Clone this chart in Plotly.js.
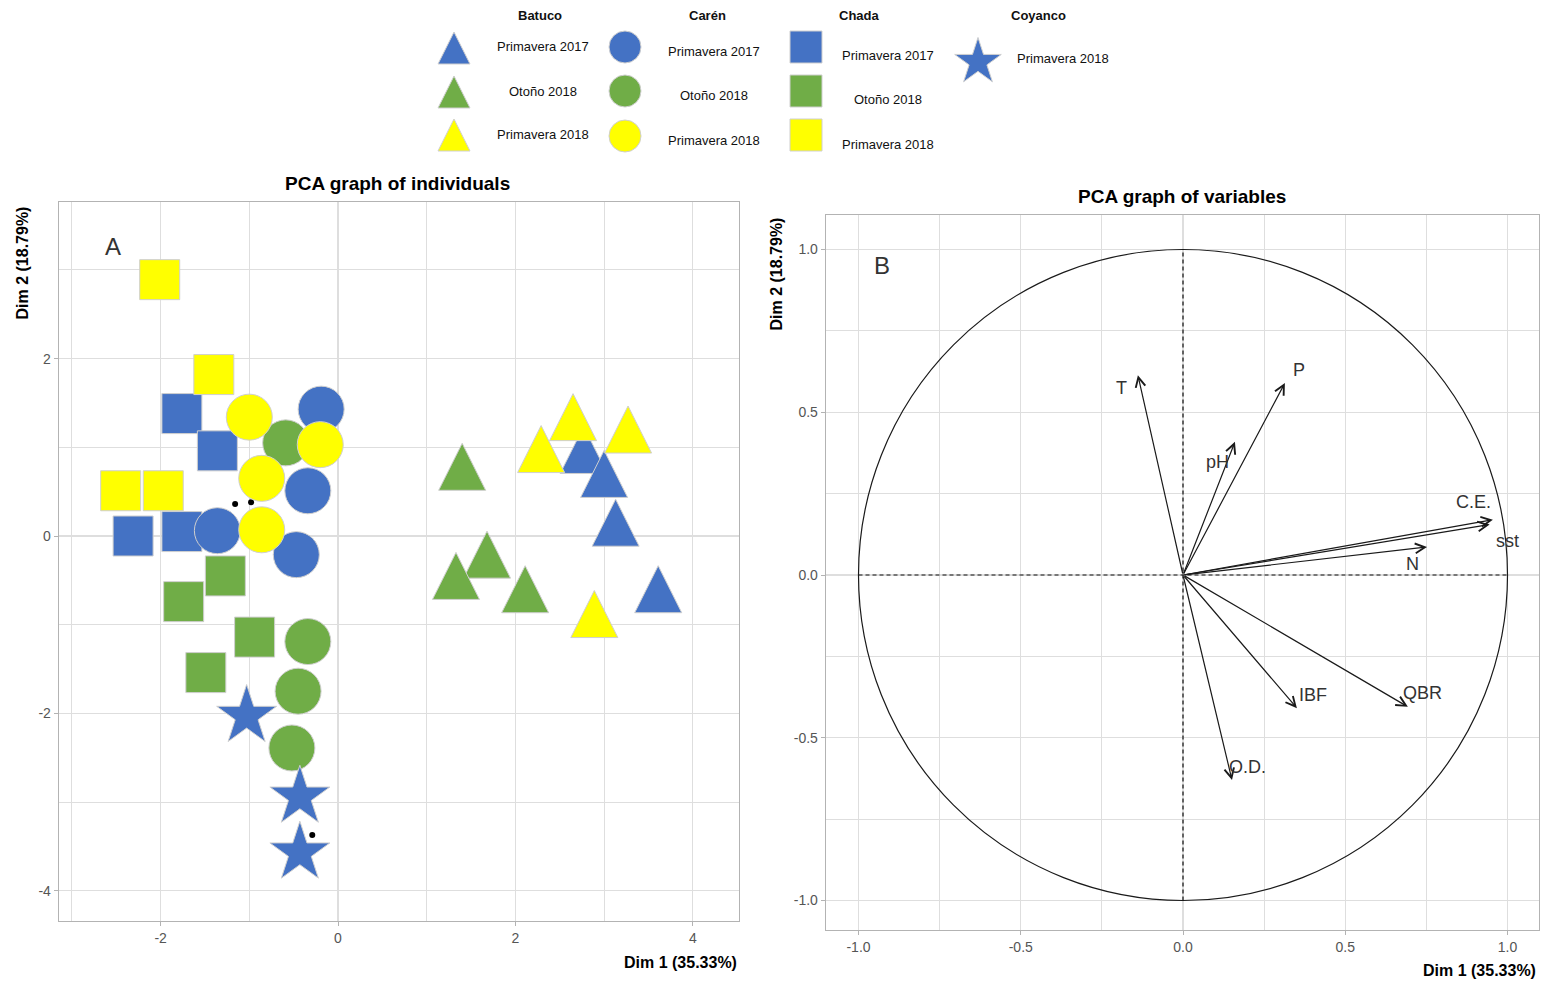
<!DOCTYPE html>
<html><head><meta charset="utf-8">
<script src="https://cdn.plot.ly/plotly-3.0.1.min.js"></script>
<style>html,body{margin:0;padding:0;background:#fff}#chart{width:1557px;height:984px}</style>
</head><body><div id="chart"></div>
<script>
const W = 1557, H = 984;

// ---------- categories ----------
const sites = ['Batuco', 'Carén', 'Chada', 'Coyanco'];
const seasons = ['Primavera 2017', 'Otoño 2018', 'Primavera 2018'];

// ---------- individuals (Dim 1, Dim 2) ----------
const chadaP17Dim1 = [-1.76, -1.36, -2.31, -1.76];
const chadaP17Dim2 = [1.38, 0.96, 0.00, 0.05];
const chadaO18Dim1 = [-1.27, -1.74, -0.94, -1.49];
const chadaO18Dim2 = [-0.45, -0.74, -1.14, -1.54];
const chadaP18Dim1 = [-2.01, -1.40, -2.45, -1.97];
const chadaP18Dim2 = [2.89, 1.82, 0.51, 0.51];
const carenP17Dim1 = [-0.19, -0.34, -1.36, -0.47];
const carenP17Dim2 = [1.43, 0.51, 0.06, -0.21];
const carenO18Dim1 = [-0.59, -0.34, -0.45, -0.52];
const carenO18Dim2 = [1.05, -1.19, -1.75, -2.39];
const carenP18Dim1 = [-1.00, -0.20, -0.86, -0.86];
const carenP18Dim2 = [1.34, 1.03, 0.65, 0.07];
const batucoP17Dim1 = [2.77, 3.00, 3.13, 3.61];
const batucoP17Dim2 = [0.97, 0.70, 0.15, -0.60];
const batucoO18Dim1 = [1.40, 1.68, 1.33, 2.11];
const batucoO18Dim2 = [0.78, -0.21, -0.45, -0.60];
const batucoP18Dim1 = [2.65, 3.27, 2.29, 2.89];
const batucoP18Dim2 = [1.34, 1.20, 0.98, -0.88];
const coyancoP18Dim1 = [-1.03, -0.43, -0.43];
const coyancoP18Dim2 = [-2.03, -2.94, -3.57];
// visible original PCA points
const pointDim1 = [-1.16, -0.98, -0.29];
const pointDim2 = [0.36, 0.38, -3.37];

// ---------- variables ----------
const varNames = ['T', 'P', 'pH', 'C.E.', 'sst', 'N', 'IBF', 'QBR', 'O.D.'];
const varDim1 = [-0.139, 0.314, 0.160, 0.955, 0.945, 0.752, 0.351, 0.693, 0.151];
const varDim2 = [0.614, 0.590, 0.409, 0.170, 0.155, 0.086, -0.409, -0.405, -0.630];

// ---------- tick labels ----------
const indXTicks = [-2, 0, 2, 4];
const indXTickText = ['-2', '0', '2', '4'];
const indYTicks = [-4, -2, 0, 2];
const indYTickText = ['-4', '-2', '0', '2'];
const varTicks = [-1, -0.5, 0, 0.5, 1];
const varTickText = ['-1.0', '-0.5', '0.0', '0.5', '1.0'];

// ---------- styles ----------
const seasonColors = ['#4472C4', '#70AD47', '#FFFF00'];
const coyancoColor = '#4472C4';
const siteMarkers = [
  {symbol: 'arrow-down', size: 47, tri: true, legendSize: 32},
  {symbol: 'circle', size: 46, legendSize: 32},
  {symbol: 'square', size: 40, legendSize: 32},
  {symbol: 'star', size: 45, legendSize: 35}
];
const FONT = 'Liberation Sans, Arial, sans-serif';

const groups = [
  {site: 2, season: 0, x: chadaP17Dim1, y: chadaP17Dim2},
  {site: 2, season: 1, x: chadaO18Dim1, y: chadaO18Dim2},
  {site: 2, season: 2, x: chadaP18Dim1, y: chadaP18Dim2},
  {site: 1, season: 0, x: carenP17Dim1, y: carenP17Dim2},
  {site: 1, season: 1, x: carenO18Dim1, y: carenO18Dim2},
  {site: 1, season: 2, x: carenP18Dim1, y: carenP18Dim2},
  {site: 0, season: 0, x: batucoP17Dim1, y: batucoP17Dim2},
  {site: 0, season: 1, x: batucoO18Dim1, y: batucoO18Dim2},
  {site: 0, season: 2, x: batucoP18Dim1, y: batucoP18Dim2},
  {site: 3, season: 2, x: coyancoP18Dim1, y: coyancoP18Dim2}
];
function colorOf(site, season) { return site === 3 ? coyancoColor : seasonColors[season]; }
function markerOf(site, color, size) {
  const s = siteMarkers[site];
  const m = {symbol: s.symbol, size: size, color: color, line: {color: '#cfcfcf', width: 1}, opacity: 1};
  if (s.tri) { m.angle = 180; m.standoff = size / 2; }
  return m;
}

// ---------- panel geometry (px) ----------
const LP = {l: 59, r: 739, t: 202, b: 921, x0px: 338, y0px: 536, unit: 88.7};
const RP = {l: 826, r: 1539, t: 215, b: 930, x0px: 1183, y0px: 575, ux: 324.5, uy: 325.5};
const px = v => v / W, py = v => 1 - v / H;

const traces = [];
traces.push({type: 'scatter', mode: 'markers', x: pointDim1, y: pointDim2, xaxis: 'x', yaxis: 'y',
  marker: {color: '#000', size: 6}, hoverinfo: 'skip', showlegend: false});
groups.forEach(g => {
  traces.push({type: 'scatter', mode: 'markers', x: g.x, y: g.y, xaxis: 'x', yaxis: 'y',
    name: sites[g.site] + ' ' + seasons[g.season],
    marker: markerOf(g.site, colorOf(g.site, g.season), siteMarkers[g.site].size),
    hoverinfo: 'skip', showlegend: false});
});

// ---------- custom legend (overlay pixel axes) ----------
const legendMarkerX = [454, 625, 806, 978];
const legendMarkerY = [[48, 92, 135], [47, 91, 136], [47, 91, 135], [62]];
const legendLabelX = [543, 714, 888, 1063];
const legendLabelY = [[47, 91, 134], [51, 96, 140], [55, 100, 145], [58]];
const legendHeaderX = [540, 707, 860, 1038];
const legendSeasons = [[0, 1, 2], [0, 1, 2], [0, 1, 2], [2]];

const annotations = [];
sites.forEach((s, i) => {
  annotations.push({xref: 'paper', yref: 'paper', x: px(legendHeaderX[i]), y: py(15), text: '<b>' + s + '</b>',
    showarrow: false, font: {family: FONT, size: 13, color: '#111'}, xanchor: 'center', yanchor: 'middle'});
  legendSeasons[i].forEach((se, k) => {
    traces.push({type: 'scatter', mode: 'markers', x: [legendMarkerX[i]], y: [legendMarkerY[i][k]],
      xaxis: 'x3', yaxis: 'y3', hoverinfo: 'skip', showlegend: false,
      marker: markerOf(i, colorOf(i, se), siteMarkers[i].legendSize)});
    annotations.push({xref: 'paper', yref: 'paper', x: px(legendLabelX[i]), y: py(legendLabelY[i][k]),
      text: seasons[se], showarrow: false, font: {family: FONT, size: 13, color: '#111'},
      xanchor: 'center', yanchor: 'middle'});
  });
});

// ---------- variable arrows ----------
const labelShift = [[-16, 13], [14, -13], [-17, 20], [-19, -18], [18, 16], [-15, 17], [16, -13], [15, -14], [15, -13]];
varNames.forEach((n, i) => {
  annotations.push({xref: 'x2', yref: 'y2', axref: 'x2', ayref: 'y2', x: varDim1[i], y: varDim2[i], ax: 0, ay: 0,
    text: '', showarrow: true, arrowhead: 5, arrowsize: 1.6, arrowwidth: 1.2, arrowcolor: '#1a1a1a'});
  annotations.push({xref: 'x2', yref: 'y2', x: varDim1[i], y: varDim2[i], xshift: labelShift[i][0], yshift: -labelShift[i][1],
    text: n, showarrow: false, font: {family: FONT, size: 18, color: '#333'}, xanchor: 'center', yanchor: 'middle'});
});

// ---------- titles and panel labels ----------
const titleFont = {family: FONT, size: 19, color: '#000'};
const axTitleFont = {family: FONT, size: 16, color: '#000'};
annotations.push(
  {xref: 'paper', yref: 'paper', x: px(398), y: py(183), text: '<b>PCA graph of individuals</b>', showarrow: false, font: titleFont, xanchor: 'center', yanchor: 'middle'},
  {xref: 'paper', yref: 'paper', x: px(1182), y: py(196), text: '<b>PCA graph of variables</b>', showarrow: false, font: titleFont, xanchor: 'center', yanchor: 'middle'},
  {xref: 'paper', yref: 'paper', x: px(22), y: py(205), text: '<b>Dim 2 (18.79%)</b>', showarrow: false, font: axTitleFont, textangle: -90, xanchor: 'center', yanchor: 'top'},
  {xref: 'paper', yref: 'paper', x: px(776), y: py(216), text: '<b>Dim 2 (18.79%)</b>', showarrow: false, font: axTitleFont, textangle: -90, xanchor: 'center', yanchor: 'top'},
  {xref: 'paper', yref: 'paper', x: px(739), y: py(962), text: '<b>Dim 1 (35.33%)</b>', showarrow: false, font: axTitleFont, xanchor: 'right', yanchor: 'middle'},
  {xref: 'paper', yref: 'paper', x: px(1538), y: py(970), text: '<b>Dim 1 (35.33%)</b>', showarrow: false, font: axTitleFont, xanchor: 'right', yanchor: 'middle'},
  {xref: 'paper', yref: 'paper', x: px(113), y: py(247), text: 'A', showarrow: false, font: {family: FONT, size: 24, color: '#333'}, xanchor: 'center', yanchor: 'middle'},
  {xref: 'paper', yref: 'paper', x: px(882), y: py(265), text: 'B', showarrow: false, font: {family: FONT, size: 24, color: '#333'}, xanchor: 'center', yanchor: 'middle'}
);

// ---------- axes ----------
const gridC = '#dedede';
function axStyle(extra) {
  return Object.assign({showgrid: true, gridcolor: gridC, gridwidth: 1.3, zeroline: false, showline: true, mirror: true,
    linecolor: '#b3b3b3', linewidth: 1.3, ticks: 'outside', ticklen: 4, tickcolor: '#b3b3b3', tickmode: 'array',
    tickfont: {family: FONT, size: 14, color: '#555'}, fixedrange: true}, extra);
}
const layout = {
  width: W, height: H, margin: {l: 0, r: 0, t: 0, b: 0}, paper_bgcolor: '#fff', plot_bgcolor: 'rgba(0,0,0,0)',
  showlegend: false,
  xaxis: axStyle({domain: [px(LP.l), px(LP.r)], anchor: 'y',
    range: [(LP.l - LP.x0px) / LP.unit, (LP.r - LP.x0px) / LP.unit],
    tickvals: indXTicks, ticktext: indXTickText,
    minor: {tickmode: 'array', tickvals: [-3, -1, 1, 3], showgrid: true, gridcolor: gridC, gridwidth: 1.1}}),
  yaxis: axStyle({domain: [py(LP.b), py(LP.t)], anchor: 'x',
    range: [(LP.y0px - LP.b) / LP.unit, (LP.y0px - LP.t) / LP.unit],
    tickvals: indYTicks, ticktext: indYTickText,
    minor: {tickmode: 'array', tickvals: [-3, -1, 1, 3], showgrid: true, gridcolor: gridC, gridwidth: 1.1}}),
  xaxis2: axStyle({domain: [px(RP.l), px(RP.r)], anchor: 'y2',
    range: [(RP.l - RP.x0px) / RP.ux, (RP.r - RP.x0px) / RP.ux],
    tickvals: varTicks, ticktext: varTickText,
    minor: {tickmode: 'array', tickvals: [-0.75, -0.25, 0.25, 0.75], showgrid: true, gridcolor: gridC, gridwidth: 1.1}}),
  yaxis2: axStyle({domain: [py(RP.b), py(RP.t)], anchor: 'x2',
    range: [(RP.y0px - RP.b) / RP.uy, (RP.y0px - RP.t) / RP.uy],
    tickvals: varTicks, ticktext: varTickText,
    minor: {tickmode: 'array', tickvals: [-0.75, -0.25, 0.25, 0.75], showgrid: true, gridcolor: gridC, gridwidth: 1.1}}),
  xaxis3: {domain: [0, 1], range: [0, W], visible: false, anchor: 'y3', fixedrange: true},
  yaxis3: {domain: [0, 1], range: [H, 0], visible: false, anchor: 'x3', fixedrange: true},
  shapes: [
    {type: 'line', xref: 'x', yref: 'y domain', x0: 0, x1: 0, y0: 0, y1: 1, line: {color: '#111', width: 1.3, dash: '5px,4px'}, layer: 'below'},
    {type: 'line', xref: 'x domain', yref: 'y', x0: 0, x1: 1, y0: 0, y1: 0, line: {color: '#111', width: 1.3, dash: '5px,4px'}, layer: 'below'},
    {type: 'line', xref: 'x2', yref: 'y2', x0: 0, x1: 0, y0: -1, y1: 1, line: {color: '#111', width: 1.2, dash: '4px,3px'}},
    {type: 'line', xref: 'x2', yref: 'y2', x0: -1, x1: 1, y0: 0, y1: 0, line: {color: '#111', width: 1.2, dash: '4px,3px'}},
    {type: 'circle', xref: 'x2', yref: 'y2', x0: -1, x1: 1, y0: -1, y1: 1, line: {color: '#1a1a1a', width: 1.2}}
  ],
  annotations: annotations
};

Plotly.newPlot('chart', traces, layout, {staticPlot: true, displayModeBar: false});
</script>
</body></html>
